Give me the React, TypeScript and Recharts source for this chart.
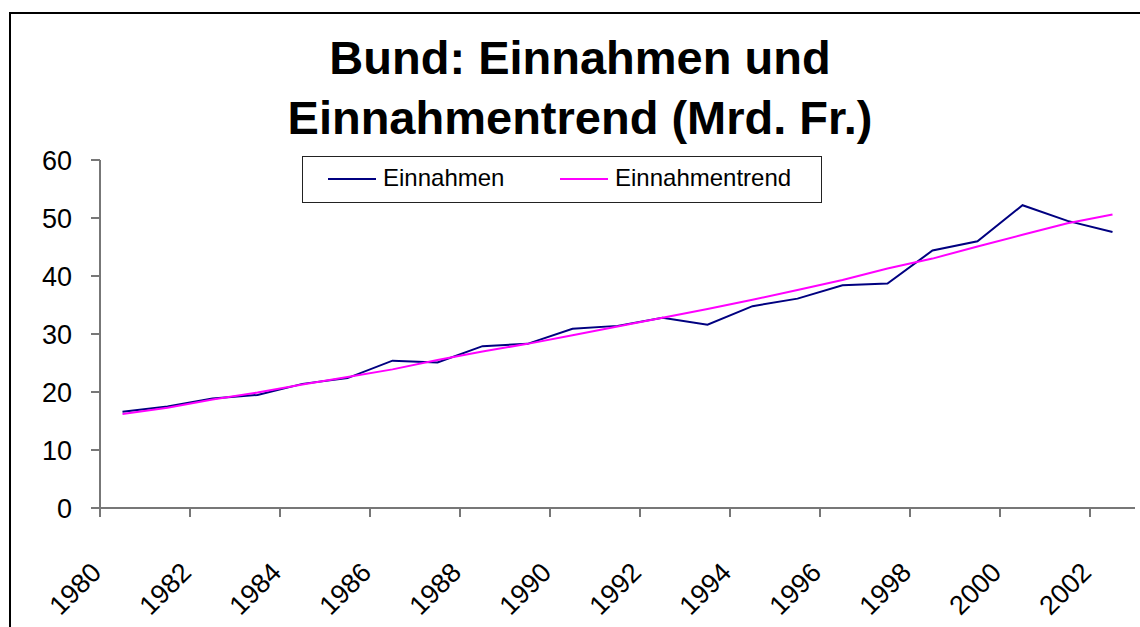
import React from 'react';
import { LineChart, Line, XAxis, YAxis } from 'recharts';

const years = [1980, 1981, 1982, 1983, 1984, 1985, 1986, 1987, 1988, 1989, 1990, 1991, 1992, 1993, 1994, 1995, 1996, 1997, 1998, 1999, 2000, 2001, 2002];
const einnahmen = [16.6, 17.5, 18.9, 19.5, 21.4, 22.4, 25.4, 25.1, 27.9, 28.3, 30.9, 31.4, 32.8, 31.6, 34.8, 36.1, 38.4, 38.7, 44.4, 46.0, 52.2, 49.5, 47.6];
const einnahmentrend = [16.2, 17.3, 18.7, 19.9, 21.3, 22.6, 23.9, 25.5, 27.0, 28.3, 29.8, 31.3, 32.8, 34.3, 35.9, 37.6, 39.3, 41.3, 43.0, 45.1, 47.1, 49.1, 50.6];
const yearTicks = [1980, 1982, 1984, 1986, 1988, 1990, 1992, 1994, 1996, 1998, 2000, 2002];
const valueTicks = [0, 10, 20, 30, 40, 50, 60];

const font = '"Liberation Sans", Arial, sans-serif';

// each year sits in the middle of its category slot
const data = years.map((y, i) => ({ pos: y + 0.5, year: y, einnahmen: einnahmen[i], trend: einnahmentrend[i] }));

function YearTick(props: any) {
  const { x, y, payload } = props;
  return (
    <g transform={`translate(${x + 3},${y + 57})`}>
      <text x={0} y={0} textAnchor="end" transform="rotate(-45)" fontSize={27} fontFamily={font} fill="#000">
        {payload.value}
      </text>
    </g>
  );
}

function LegendBox() {
  return (
    <div style={{ position: 'absolute', left: 302, top: 156, width: 518, height: 45, border: '1px solid #222', background: '#fff', fontFamily: font, fontSize: 24 }}>
      <div style={{ position: 'absolute', left: 25, top: 21, width: 48, height: 2, background: '#000080' }} />
      <div style={{ position: 'absolute', left: 80, top: 6, lineHeight: '30px' }}>Einnahmen</div>
      <div style={{ position: 'absolute', left: 257, top: 21, width: 48, height: 2, background: '#ff00ff' }} />
      <div style={{ position: 'absolute', left: 312, top: 6, lineHeight: '30px' }}>Einnahmentrend</div>
    </div>
  );
}

export default function App() {
  return (
    <div style={{ position: 'absolute', left: 0, top: 0, width: 1140, height: 627, overflow: 'hidden', background: '#fff' }}>
      <div style={{ position: 'absolute', left: 9, top: 12, width: 1200, height: 700, border: '2px solid #000' }} />
      <div style={{ position: 'absolute', left: 20, top: 28, width: 1120, textAlign: 'center', fontFamily: font, fontWeight: 'bold', fontSize: 47, lineHeight: '60px', color: '#000' }}>
        Bund: Einnahmen und
        <br />
        Einnahmentrend (Mrd. Fr.)
      </div>
      <div style={{ position: 'absolute', left: 0, top: 0 }}>
        <LineChart width={1140} height={627} data={data} margin={{ top: 160, right: 5, left: 0, bottom: 0 }}>
          <XAxis
            type="number"
            dataKey="pos"
            domain={[1980, 2003]}
            ticks={yearTicks}
            interval={0}
            height={119}
            tickSize={9}
            tickMargin={0}
            tick={<YearTick />}
            axisLine={{ stroke: '#777', strokeWidth: 2 }}
            tickLine={{ stroke: '#777', strokeWidth: 2 }}
          />
          <YAxis
            domain={[0, 60]}
            ticks={valueTicks}
            interval={0}
            width={100}
            tickSize={9}
            tickMargin={19}
            tick={{ fill: '#000', fontSize: 27, fontFamily: font }}
            axisLine={{ stroke: '#777', strokeWidth: 2 }}
            tickLine={{ stroke: '#777', strokeWidth: 2 }}
          />
          <Line type="linear" dataKey="einnahmen" name="Einnahmen" stroke="#000080" strokeWidth={2} dot={false} isAnimationActive={false} />
          <Line type="linear" dataKey="trend" name="Einnahmentrend" stroke="#ff00ff" strokeWidth={2} dot={false} isAnimationActive={false} />
        </LineChart>
      </div>
      <LegendBox />
    </div>
  );
}
